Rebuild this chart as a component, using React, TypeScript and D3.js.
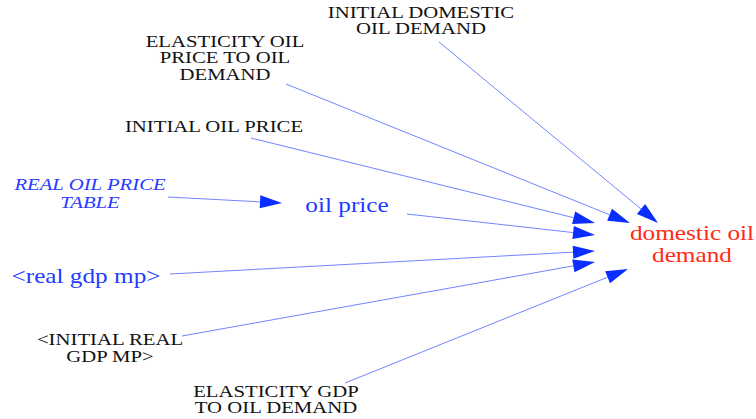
import { useEffect, useRef } from "react";
import * as d3 from "d3";

// variables in the sketch
const nodeIds = [
  "initDomestic",
  "elastPrice",
  "initPrice",
  "priceTable",
  "oilPrice",
  "realGdp",
  "initGdp",
  "elastGdp",
  "demand",
];
const nodeLines = [
  ["INITIAL DOMESTIC", "OIL DEMAND"],
  ["ELASTICITY OIL", "PRICE TO OIL", "DEMAND"],
  ["INITIAL OIL PRICE"],
  ["REAL OIL PRICE", "TABLE"],
  ["oil price"],
  ["<real gdp mp>"],
  ["<INITIAL REAL", "GDP MP>"],
  ["ELASTICITY GDP", "TO OIL DEMAND"],
  ["domestic oil", "demand"],
];
const nodeKinds = ["constant", "constant", "constant", "lookup", "aux", "shadow", "shadow", "constant", "output"];

// causal links (from -> to)
const linkFrom = ["initDomestic", "elastPrice", "initPrice", "oilPrice", "realGdp", "initGdp", "elastGdp", "priceTable"];
const linkTo = ["demand", "demand", "demand", "demand", "demand", "demand", "demand", "oilPrice"];

// sketch layout (diagram units)
const nodeAnchor: [number, number][] = [
  [421, 18], [225, 47], [214, 132], [90, 190], [347, 212], [86, 283], [110, 345], [276, 397], [692, 240],
];
const linkTail: [number, number][] = [
  [439, 42], [286, 84], [251, 138], [407, 214], [170, 274], [182, 336], [345, 383], [168, 197],
];
const linkHead: [number, number][] = [
  [658, 223], [630, 223], [595, 223], [595, 235], [595, 251], [595, 262], [628, 269], [282, 203],
];

const kindStyle: Record<string, { size: number; color: string; italic: boolean; lh: number }> = {
  constant: { size: 17, color: "#111", italic: false, lh: 16.5 },
  shadow: { size: 17, color: "#111", italic: false, lh: 17.5 },
  lookup: { size: 17, color: "#2a3cff", italic: true, lh: 18 },
  aux: { size: 20.7, color: "#1f3bff", italic: false, lh: 22 },
  output: { size: 20.7, color: "#ff2a14", italic: false, lh: 22 },
};
// realGdp is a lowercase shadow variable shown in blue
const nodeOverride: Record<string, { size: number; color: string }> = {
  realGdp: { size: 20.7, color: "#1f3bff" },
};

const serif = "Liberation Serif, Times New Roman, Times, Tinos, DejaVu Serif, Noto Serif, serif";

export default function App() {
  const ref = useRef<SVGSVGElement>(null);

  useEffect(() => {
    if (!ref.current) return;
    const width = 756;
    const height = 419;
    const svg = d3.select(ref.current);
    svg.selectAll("*").remove();

    const x = d3.scaleLinear().domain([0, 756]).range([0, width]);
    const y = d3.scaleLinear().domain([0, 419]).range([0, height]);

    const arrowLen = 22;
    const arrowHalf = 6.5;

    const links = linkFrom.map((f, i) => ({ from: f, to: linkTo[i], tail: linkTail[i], head: linkHead[i] }));

    const lg = svg.append("g");
    links.forEach((l) => {
      const x0 = x(l.tail[0]);
      const y0 = y(l.tail[1]);
      const x1 = x(l.head[0]);
      const y1 = y(l.head[1]);
      const ang = Math.atan2(y1 - y0, x1 - x0);
      const bx = x1 - arrowLen * Math.cos(ang);
      const by = y1 - arrowLen * Math.sin(ang);
      lg.append("line")
        .attr("x1", x0)
        .attr("y1", y0)
        .attr("x2", bx)
        .attr("y2", by)
        .attr("stroke", "#7186ff")
        .attr("stroke-width", 1);
      const px = -Math.sin(ang) * arrowHalf;
      const py = Math.cos(ang) * arrowHalf;
      lg.append("path")
        .attr("d", d3.line()([[x1, y1], [bx + px, by + py], [bx - px, by - py]]) + "Z")
        .attr("fill", "#0b2dff");
    });

    const ng = svg.append("g");
    nodeIds.forEach((id, i) => {
      const st = kindStyle[nodeKinds[i]];
      const ov = nodeOverride[id];
      const size = ov ? ov.size : st.size;
      const color = ov ? ov.color : st.color;
      const g = ng
        .append("g")
        .attr("transform", `translate(${x(nodeAnchor[i][0])},${y(nodeAnchor[i][1])}) scale(1.22,1)`);
      const t = g
        .append("text")
        .attr("font-family", serif)
        .attr("text-anchor", "middle")
        .attr("font-size", size)
        .attr("fill", color)
        .attr("font-style", st.italic ? "italic" : "normal");
      nodeLines[i].forEach((line, j) => {
        t.append("tspan").attr("x", 0).attr("dy", j === 0 ? 0 : st.lh).text(line);
      });
    });
  }, []);

  return (
    <div style={{ position: "absolute", left: 0, top: 0 }}>
      <svg ref={ref} width={756} height={419} style={{ display: "block", background: "#fff" }} />
    </div>
  );
}
